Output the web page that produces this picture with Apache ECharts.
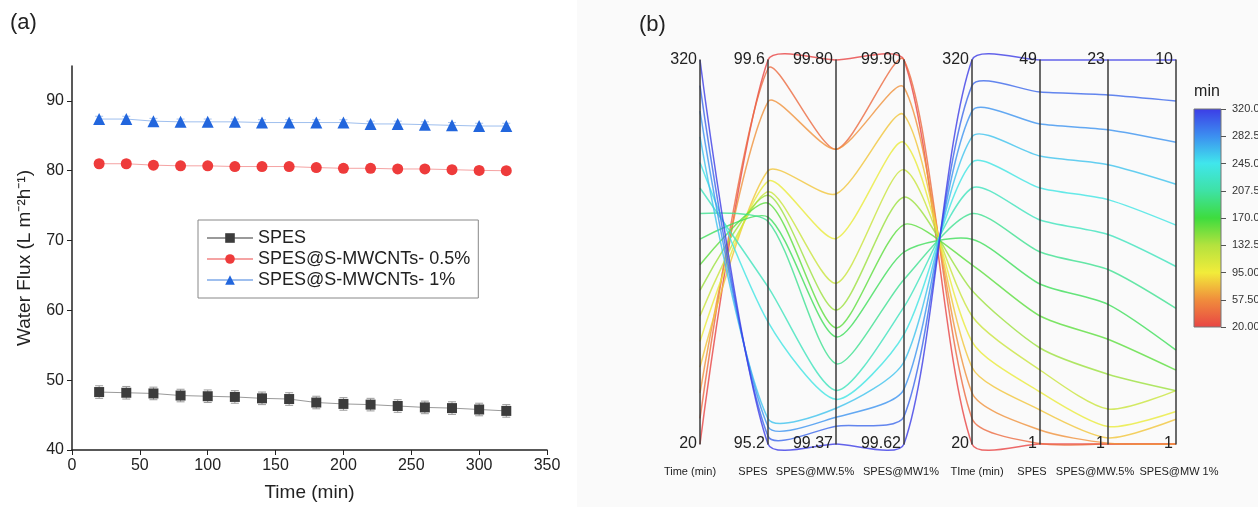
<!DOCTYPE html>
<html>
<head>
<meta charset="utf-8">
<script src="https://cdn.jsdelivr.net/npm/echarts@6/dist/echarts.min.js"></script>
<style>
html, body { margin: 0; padding: 0; background: #fff; }
#chart { width: 1258px; height: 507px; }
</style>
</head>
<body>
<div id="chart"></div>
<script>
// ---------- panel (a): water flux vs time ----------
const timeMin = [20, 40, 60, 80, 100, 120, 140, 160, 180, 200, 220, 240, 260, 280, 300, 320];
const fluxSPES = [48.3, 48.2, 48.1, 47.8, 47.7, 47.6, 47.4, 47.3, 46.8, 46.6, 46.5, 46.3, 46.1, 46.0, 45.8, 45.6];
const fluxMW05 = [81.0, 81.0, 80.8, 80.7, 80.7, 80.6, 80.6, 80.6, 80.45, 80.35, 80.35, 80.25, 80.25, 80.15, 80.05, 80.0];
const fluxMW1 = [87.4, 87.4, 87.1, 87.0, 87.0, 87.0, 86.9, 86.9, 86.9, 86.9, 86.7, 86.7, 86.6, 86.5, 86.4, 86.4];
const errSPES = [0.9, 0.9, 0.9, 0.9, 0.9, 0.9, 0.9, 0.9, 0.9, 0.9, 0.9, 0.9, 0.9, 0.9, 0.9, 0.9];
const errMW05 = [0.5, 0.5, 0.5, 0.5, 0.5, 0.5, 0.5, 0.5, 0.5, 0.5, 0.5, 0.5, 0.5, 0.5, 0.5, 0.5];
const errMW1 = [0.4, 0.4, 0.4, 0.4, 0.4, 0.4, 0.4, 0.4, 0.4, 0.4, 0.4, 0.4, 0.4, 0.4, 0.4, 0.4];
const seriesNames = ["SPES", "SPES@S-MWCNTs- 0.5%", "SPES@S-MWCNTs- 1%"];
const yTicks = [40, 50, 60, 70, 80, 90];

// ---------- panel (b): parallel coordinates ----------
const rejSPES = [99.60, 99.50, 99.12, 98.33, 98.21, 98.09, 98.05, 97.96, 97.80, 97.75, 97.00, 96.60, 95.49, 95.40, 95.29, 95.20];
const rejMW05 = [99.80, 99.70, 99.70, 99.65, 99.60, 99.55, 99.52, 99.50, 99.49, 99.46, 99.43, 99.42, 99.41, 99.40, 99.39, 99.37];
const rejMW1 = [99.90, 99.90, 99.88, 99.86, 99.84, 99.82, 99.80, 99.78, 99.76, 99.74, 99.72, 99.70, 99.68, 99.66, 99.64, 99.62];
const declSPES = [1, 1.05, 2.75, 5.25, 7.5, 10.25, 13, 17, 21, 25, 29, 33, 37, 41, 45, 49];
const declMW05 = [1, 1, 1.05, 1.35, 2, 3, 5, 7, 9, 11, 13, 15, 17, 19, 21, 23];
const declMW1 = [1, 1, 1, 1.58, 1.76, 2.25, 2.25, 2.73, 3.2, 4.18, 5.16, 6.13, 7.09, 8.07, 9.04, 10];

const parAxisNames = ["Time (min)", "SPES", "SPES@MW.5%", "SPES@MW1%", "TIme (min)", "SPES", "SPES@MW.5%", "SPES@MW 1%"];
const parAxisMin = [20, 95.2, 99.37, 99.62, 20, 1, 1, 1];
const parAxisMax = [320, 99.6, 99.80, 99.90, 320, 49, 23, 10];
const parMinLabels = ["20", "95.2", "99.37", "99.62", "20", "1", "1", "1"];
const parMaxLabels = ["320", "99.6", "99.80", "99.90", "320", "49", "23", "10"];
const colorbarLabels = ["20.00", "57.50", "95.00", "132.5", "170.0", "207.5", "245.0", "282.5", "320.0"];
const colorbarColors = ["#e84444", "#f08c3c", "#f2ec3a", "#b4e23e", "#3edc3e", "#3ee2a6", "#40e6ec", "#3c8ef0", "#3c3ce6"];

const FONT = "Arial, 'Liberation Sans', sans-serif";
const nameShift = [10, 15, 21, 3, -5, 8, 13, -3];

let chart = echarts.init(document.getElementById("chart"));

function errorBar(color) {
    return function (params, api) {
        let x = api.value(0);
        let lo = api.coord([x, api.value(1)]);
        let hi = api.coord([x, api.value(2)]);
        let w = 4;
        let style = { stroke: color, lineWidth: 1 };
        return {
            type: "group",
            children: [
                { type: "line", shape: { x1: hi[0], y1: hi[1], x2: lo[0], y2: lo[1] }, style: style },
                { type: "line", shape: { x1: hi[0] - w, y1: hi[1], x2: hi[0] + w, y2: hi[1] }, style: style },
                { type: "line", shape: { x1: lo[0] - w, y1: lo[1], x2: lo[0] + w, y2: lo[1] }, style: style }
            ]
        };
    };
}

function errData(values, errs) {
    return timeMin.map(function (t, i) {
        return [t, values[i] - errs[i], values[i] + errs[i]];
    });
}

function pairs(values) {
    return timeMin.map(function (t, i) { return [t, values[i]]; });
}

let parRows = timeMin.map(function (t, i) {
    return [t, rejSPES[i], rejMW05[i], rejMW1[i], t, declSPES[i], declMW05[i], declMW1[i]];
});

let parallelAxis = parAxisNames.map(function (name, i) {
    return {
        dim: i,
        name: name,
        min: parAxisMin[i],
        max: parAxisMax[i],
        nameLocation: "start",
        nameGap: 22,
        nameTruncate: { maxWidth: 200 },
        nameTextStyle: {
            fontFamily: FONT, fontSize: 11, color: "#222", overflow: "none",
            padding: nameShift[i] >= 0 ? [0, 2 * nameShift[i], 0, 0] : [0, 0, 0, -2 * nameShift[i]]
        },
        axisLine: { lineStyle: { color: "#3a3a3a", width: 1.5 } },
        axisTick: { show: false },
        axisLabel: {
            showMinLabel: true,
            showMaxLabel: true,
            fontFamily: FONT,
            fontSize: 16,
            color: "#222",
            align: "right",
            verticalAlign: "middle",
            margin: -3,
            formatter: function (v) {
                if (Math.abs(v - parAxisMin[i]) < 1e-9) return parMinLabels[i];
                if (Math.abs(v - parAxisMax[i]) < 1e-9) return parMaxLabels[i];
                return "";
            }
        }
    };
});

// colour bar fill, same stops as the visual map
let barGradient = new echarts.graphic.LinearGradient(0, 1, 0, 0,
    colorbarColors.map(function (c, i) { return { offset: i / (colorbarColors.length - 1), color: c }; }));

chart.setOption({
    animation: false,
    backgroundColor: "#fff",
    textStyle: { fontFamily: FONT },
    graphic: {
        elements: [
            { type: "rect", left: 577, top: 0, z: -10, shape: { width: 681, height: 507 }, style: { fill: "#fafafa" } },
            { type: "text", left: 10, top: 12, style: { text: "(a)", fontFamily: FONT, fontSize: 22, fill: "#222" } },
            { type: "text", left: 639, top: 14, style: { text: "(b)", fontFamily: FONT, fontSize: 22, fill: "#222" } }
        ]
    },
    legend: {
        data: seriesNames,
        orient: "vertical",
        left: 198,
        top: 220,
        padding: [9, 8, 9, 8],
        itemGap: 3,
        itemWidth: 46,
        itemHeight: 12,
        borderColor: "#888",
        borderWidth: 1,
        textStyle: { fontFamily: FONT, fontSize: 18, color: "#222" }
    },
    grid: [
        { left: 72, right: 711, top: 66, bottom: 57, outerBoundsMode: "none" },
        { left: 1194, top: 109, width: 27, height: 218, show: true, outerBoundsMode: "none",
          backgroundColor: barGradient, borderColor: "#777", borderWidth: 1 }
    ],
    xAxis: [
        {
            gridIndex: 0, type: "value", min: 0, max: 350, interval: 50,
            name: "Time (min)", nameLocation: "middle", nameGap: 33,
            nameTextStyle: { fontFamily: FONT, fontSize: 19, color: "#222" },
            axisLine: { lineStyle: { color: "#222", width: 1.5 } },
            axisTick: { length: 5, lineStyle: { color: "#222" } },
            axisLabel: { fontFamily: FONT, fontSize: 16, color: "#222", margin: 8 },
            splitLine: { show: false }
        },
        { gridIndex: 1, type: "value", show: false, min: 0, max: 1 }
    ],
    yAxis: [
        {
            gridIndex: 0, type: "value", min: 40, max: 95,
            name: "Water Flux (L m\u207B\u00B2h\u207B\u00B9)", nameLocation: "middle", nameGap: 38,
            nameTextStyle: { fontFamily: FONT, fontSize: 19, color: "#222" },
            axisLine: { show: true, lineStyle: { color: "#222", width: 1.5 } },
            axisTick: { show: true, length: 5, customValues: yTicks, lineStyle: { color: "#222" } },
            axisLabel: { fontFamily: FONT, fontSize: 16, color: "#222", margin: 8, customValues: yTicks },
            splitLine: { show: false }
        },
        {
            gridIndex: 1, type: "value", min: 0, max: 8, interval: 1, position: "right",
            name: "min", nameLocation: "end", nameGap: 9,
            nameTextStyle: { fontFamily: FONT, fontSize: 16, color: "#222", padding: [0, 28, 0, 0] },
            axisLine: { show: false, onZero: false },
            axisTick: { show: true, inside: false, length: 5, lineStyle: { color: "#555" } },
            axisLabel: {
                fontFamily: FONT, fontSize: 11, color: "#333", margin: 11,
                formatter: function (v) { return colorbarLabels[v]; }
            },
            splitLine: { show: false }
        }
    ],
    parallel: {
        left: 700,
        right: 82,
        top: 60,
        bottom: 63,
        layout: "horizontal"
    },
    parallelAxis: parallelAxis,
    visualMap: {
        type: "continuous",
        show: false,
        seriesIndex: 6,
        dimension: 0,
        min: 20,
        max: 320,
        inRange: { color: colorbarColors }
    },
    series: [
        {
            name: "err-spes", type: "custom", xAxisIndex: 0, yAxisIndex: 0,
            renderItem: errorBar("#9a9a9a"), data: errData(fluxSPES, errSPES), z: 1
        },
        {
            name: "err-mw05", type: "custom", xAxisIndex: 0, yAxisIndex: 0,
            renderItem: errorBar("#f4a6a6"), data: errData(fluxMW05, errMW05), z: 1
        },
        {
            name: "err-mw1", type: "custom", xAxisIndex: 0, yAxisIndex: 0,
            renderItem: errorBar("#a6c2ee"), data: errData(fluxMW1, errMW1), z: 1
        },
        {
            name: seriesNames[0], type: "line", xAxisIndex: 0, yAxisIndex: 0,
            data: pairs(fluxSPES), symbol: "rect", symbolSize: 10,
            itemStyle: { color: "#3c3c3c" },
            lineStyle: { color: "#9a9a9a", width: 1 }
        },
        {
            name: seriesNames[1], type: "line", xAxisIndex: 0, yAxisIndex: 0,
            data: pairs(fluxMW05), symbol: "circle", symbolSize: 11,
            itemStyle: { color: "#ee3b3b" },
            lineStyle: { color: "#f5a3a3", width: 1 }
        },
        {
            name: seriesNames[2], type: "line", xAxisIndex: 0, yAxisIndex: 0,
            data: pairs(fluxMW1), symbol: "triangle", symbolSize: 12,
            itemStyle: { color: "#2266dd" },
            lineStyle: { color: "#9fbfee", width: 1 }
        },
        {
            name: "parallel", type: "parallel",
            smooth: 0.25,
            lineStyle: { width: 1.5, opacity: 0.8 },
            data: parRows
        }
    ]
});
</script>
</body>
</html>
